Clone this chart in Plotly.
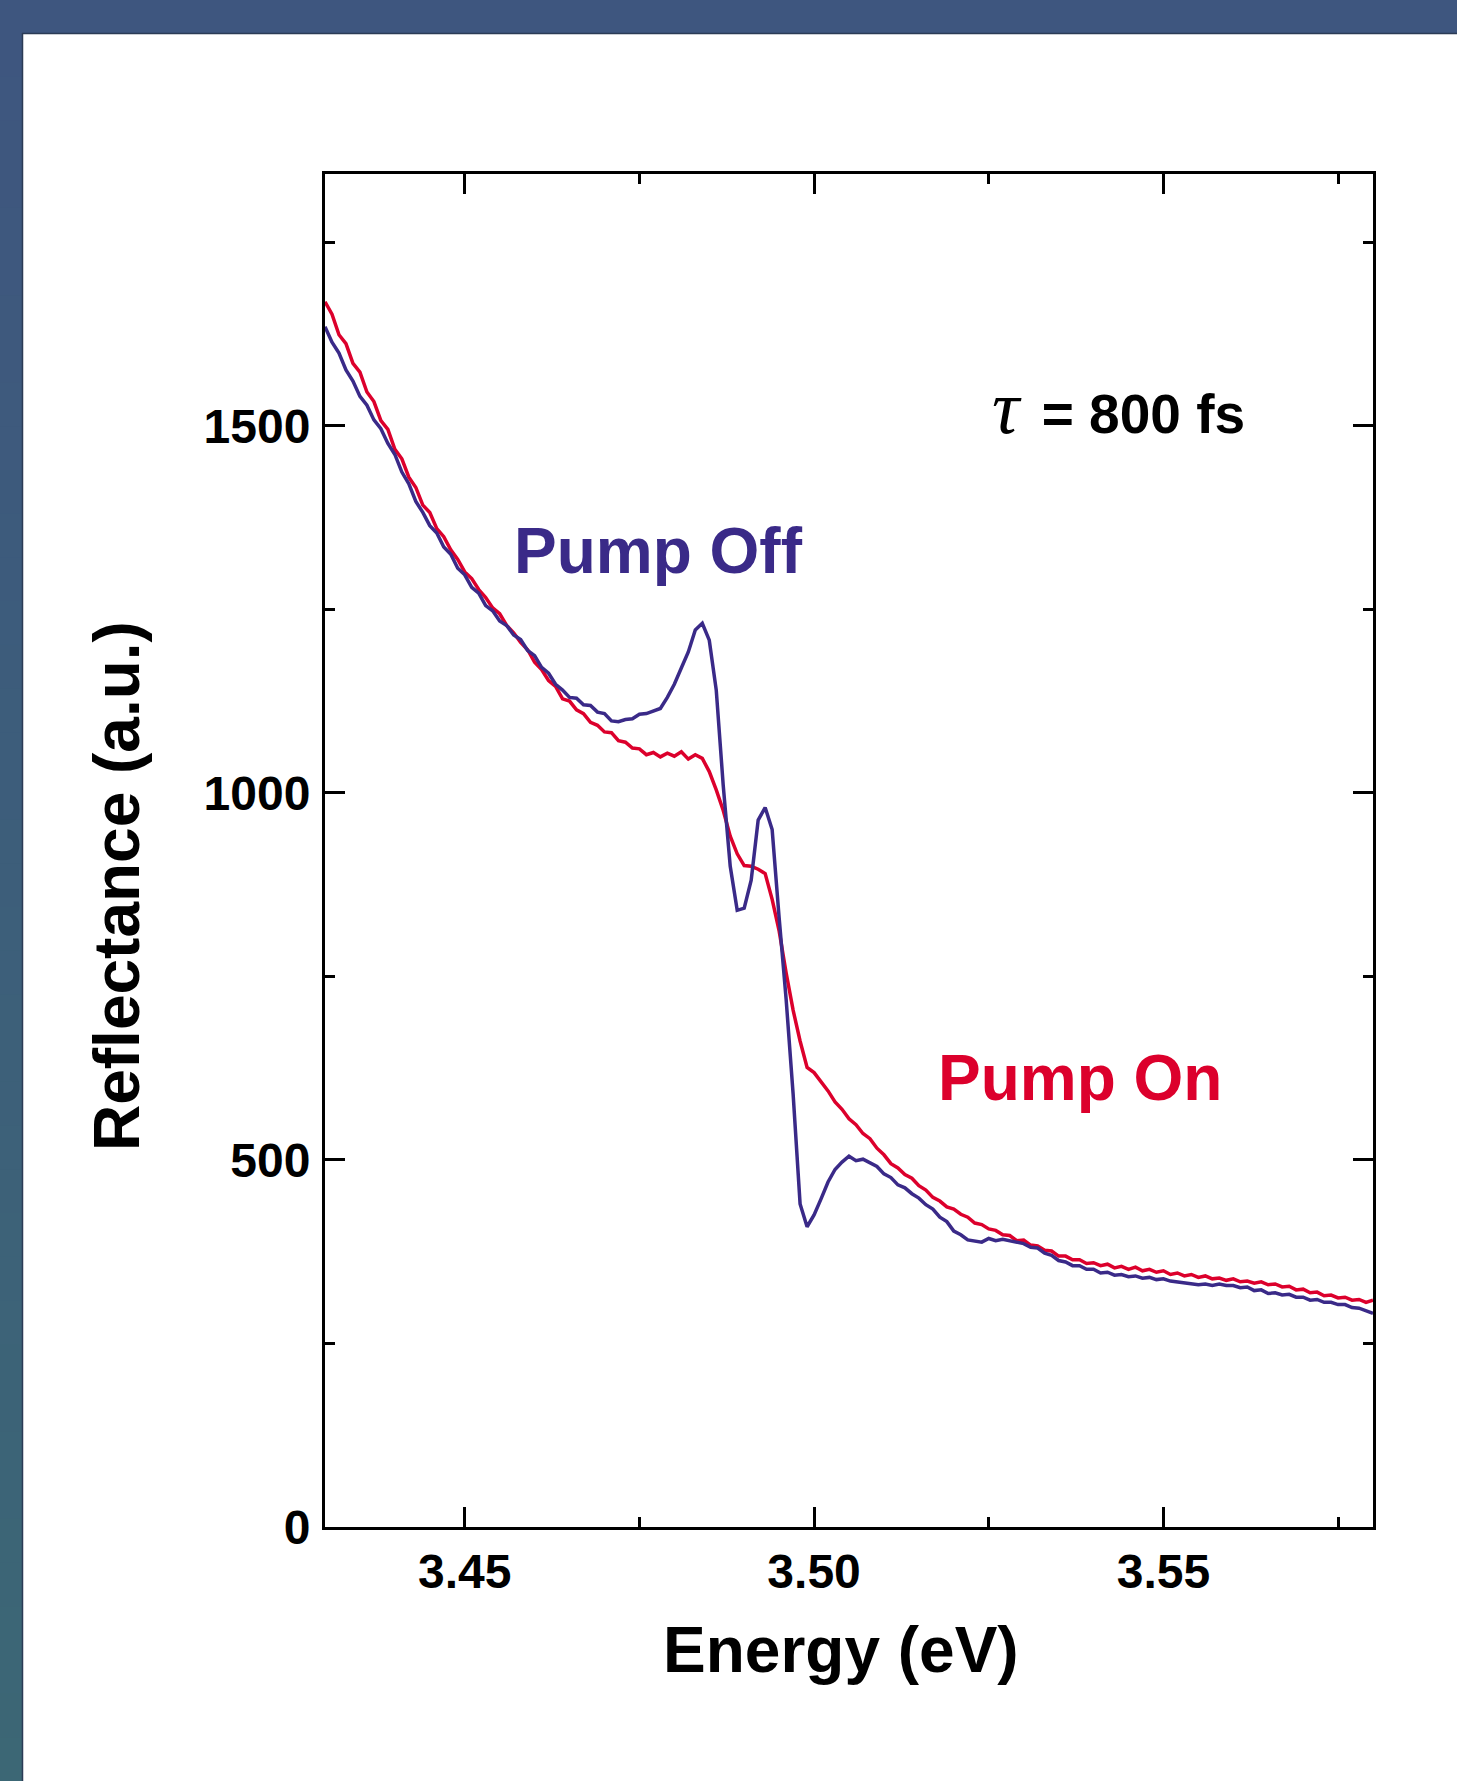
import plotly.graph_objects as go

# ---------------- data ----------------
energy_start = 3.430
energy_step = 0.001
n_points = 151
energy = [round(energy_start + i * energy_step, 3) for i in range(n_points)]

pump_on = [
    1669, 1652, 1624, 1612, 1585, 1573, 1546, 1533, 1507, 1495,
    1468, 1455, 1430, 1416, 1392, 1382, 1360, 1349, 1331, 1318,
    1301, 1292, 1277, 1266, 1252, 1244, 1228, 1218, 1205, 1195,
    1178, 1168, 1153, 1145, 1128, 1125, 1113, 1108, 1096, 1092,
    1083, 1082, 1071, 1069, 1061, 1060, 1052, 1055, 1049, 1054,
    1050, 1056, 1046, 1052, 1047, 1029, 1004, 976, 941, 917,
    901, 900, 896, 890, 855, 812, 755, 704, 662, 626,
    619, 607, 594, 579, 569, 556, 548, 536, 529, 516,
    507, 495, 489, 480, 475, 465, 459, 449, 444, 436,
    433, 426, 422, 414, 412, 406, 404, 398, 397, 390,
    391, 384, 383, 377, 376, 369, 369, 364, 364, 359,
    360, 356, 358, 353, 355, 351, 354, 349, 351, 347,
    349, 344, 346, 342, 344, 340, 342, 338, 339, 336,
    338, 334, 335, 332, 334, 330, 331, 327, 328, 323,
    324, 319, 320, 315, 316, 312, 313, 309, 310, 306,
    309,
]

pump_off = [
    1635, 1614, 1599, 1576, 1561, 1540, 1528, 1508, 1496, 1476,
    1461, 1437, 1421, 1397, 1382, 1364, 1354, 1335, 1325, 1306,
    1297, 1280, 1272, 1255, 1248, 1234, 1228, 1215, 1209, 1194,
    1187, 1171, 1163, 1148, 1140, 1130, 1129, 1120, 1119, 1110,
    1108, 1098, 1097, 1100, 1101, 1107, 1108, 1112, 1115, 1130,
    1148, 1170, 1192, 1222, 1231, 1208, 1140, 1010, 900, 840,
    843, 881, 963, 980, 950, 830, 719, 590, 440, 409,
    425, 447, 470, 487, 497, 505, 499, 501, 496, 491,
    481, 476, 466, 462, 454, 448, 439, 433, 422, 416,
    403, 398, 391, 390, 388, 393, 390, 392, 390, 388,
    386, 381, 380, 373, 370, 363, 361, 356, 356, 351,
    351, 346, 347, 343, 344, 341, 342, 339, 340, 337,
    338, 335, 334, 332, 332, 330, 331, 329, 331, 329,
    329, 326, 327, 322, 323, 318, 319, 316, 317, 313,
    313, 309, 310, 306, 306, 303, 303, 299, 298, 295,
    291,
]

x_range = [3.43, 3.58]
y_range = [0, 1843]
x_tick_vals = [3.45, 3.50, 3.55]
x_tick_text = ["3.45", "3.50", "3.55"]
y_tick_vals = [0, 500, 1000, 1500]
y_tick_text = ["0", "500", "1000", "1500"]

RED = "#dc002c"
BLUE = "#3a2a88"
FONT = "Liberation Sans, Arial, sans-serif"

fig = go.Figure()
fig.add_trace(go.Scatter(x=energy, y=pump_on, mode="lines", name="Pump On",
                         line=dict(color=RED, width=3.5)))
fig.add_trace(go.Scatter(x=energy, y=pump_off, mode="lines", name="Pump Off",
                         line=dict(color=BLUE, width=3.5)))

W, H = 1457, 1781
L, R, T, B = 325, 84, 174, 254
pw, ph = W - L - R, H - T - B

def px2paper_x(px):
    return (px - L) / pw

def px2paper_y(py):
    return (H - B - py) / ph

# decorative frame: top band and left band with vertical gradient
shapes = []
shapes.append(dict(type="rect", xref="paper", yref="paper",
                   x0=px2paper_x(0), x1=px2paper_x(W), y0=px2paper_y(33), y1=px2paper_y(0),
                   fillcolor="#3e567f", line=dict(width=0), layer="below"))
nseg = 40
c_top = (62, 86, 127)
c_bot = (60, 103, 117)
for i in range(nseg):
    y0p = 33 + (H - 33) * i / nseg
    y1p = 33 + (H - 33) * (i + 1) / nseg
    t = (i + 0.5) / nseg
    col = tuple(int(round(a + (b - a) * t)) for a, b in zip(c_top, c_bot))
    shapes.append(dict(type="rect", xref="paper", yref="paper",
                       x0=px2paper_x(0), x1=px2paper_x(22),
                       y0=px2paper_y(y1p + 1), y1=px2paper_y(y0p),
                       fillcolor="rgb(%d,%d,%d)" % col, line=dict(width=0), layer="below"))
shapes.append(dict(type="line", xref="paper", yref="paper",
                   x0=px2paper_x(22), x1=px2paper_x(W), y0=px2paper_y(33.5), y1=px2paper_y(33.5),
                   line=dict(color="#2b3b55", width=1.5), layer="below"))
shapes.append(dict(type="line", xref="paper", yref="paper",
                   x0=px2paper_x(22.5), x1=px2paper_x(22.5), y0=px2paper_y(H), y1=px2paper_y(33),
                   line=dict(color="#2b3b55", width=1.5), layer="below"))

annotations = [
    dict(text="Pump Off", x=3.4568, y=1330, xref="x", yref="y", xanchor="left", yanchor="middle",
         showarrow=False, font=dict(family=FONT, size=64, color=BLUE, weight="bold")),
    dict(text="Pump On", x=3.5175, y=611, xref="x", yref="y", xanchor="left", yanchor="middle",
         showarrow=False, font=dict(family=FONT, size=64, color=RED, weight="bold")),
    dict(text='<span style="font-family:Liberation Serif;font-weight:normal;font-size:76px"><i>τ</i></span>'
              '<span style="font-size:26px">&nbsp;</span> = 800 fs',
         x=3.5252, y=1525, xref="x", yref="y", xanchor="left", yanchor="middle",
         showarrow=False, font=dict(family=FONT, size=55, color="black", weight="bold")),
    dict(text="Energy (eV)", x=px2paper_x(841), y=px2paper_y(1650), xref="paper", yref="paper",
         xanchor="center", yanchor="middle", showarrow=False,
         font=dict(family=FONT, size=64, color="black", weight="bold")),
    dict(text="Reflectance (a.u.)", x=px2paper_x(117), y=px2paper_y(886), xref="paper", yref="paper",
         xanchor="center", yanchor="middle", textangle=-90, showarrow=False,
         font=dict(family=FONT, size=64, color="black", weight="bold")),
]

axis_common = dict(
    showline=True, linecolor="black", linewidth=3, mirror="allticks",
    ticks="inside", ticklen=20, tickwidth=3, tickcolor="black",
    showgrid=False, zeroline=False,
    tickfont=dict(family=FONT, size=48, color="black", weight="bold"),
)

fig.update_layout(
    width=W, height=H,
    margin=dict(l=L, r=R, t=T, b=B, pad=0),
    paper_bgcolor="white", plot_bgcolor="white",
    showlegend=False,
    shapes=shapes,
    annotations=annotations,
    xaxis=dict(range=x_range, tickmode="array", tickvals=x_tick_vals, ticktext=x_tick_text,
               minor=dict(ticks="inside", ticklen=10, tickwidth=2.5, tickcolor="black",
                          tick0=3.45, dtick=0.025, showgrid=False),
               ticklabelstandoff=0, **axis_common),
    yaxis=dict(range=y_range, tickmode="array", tickvals=y_tick_vals, ticktext=y_tick_text,
               minor=dict(ticks="inside", ticklen=10, tickwidth=2.5, tickcolor="black",
                          tick0=0, dtick=250, showgrid=False),
               ticklabelstandoff=2, **axis_common),
)

fig.write_html("out.html", config={"displayModeBar": False},
               post_script="document.body.style.margin='0';")
